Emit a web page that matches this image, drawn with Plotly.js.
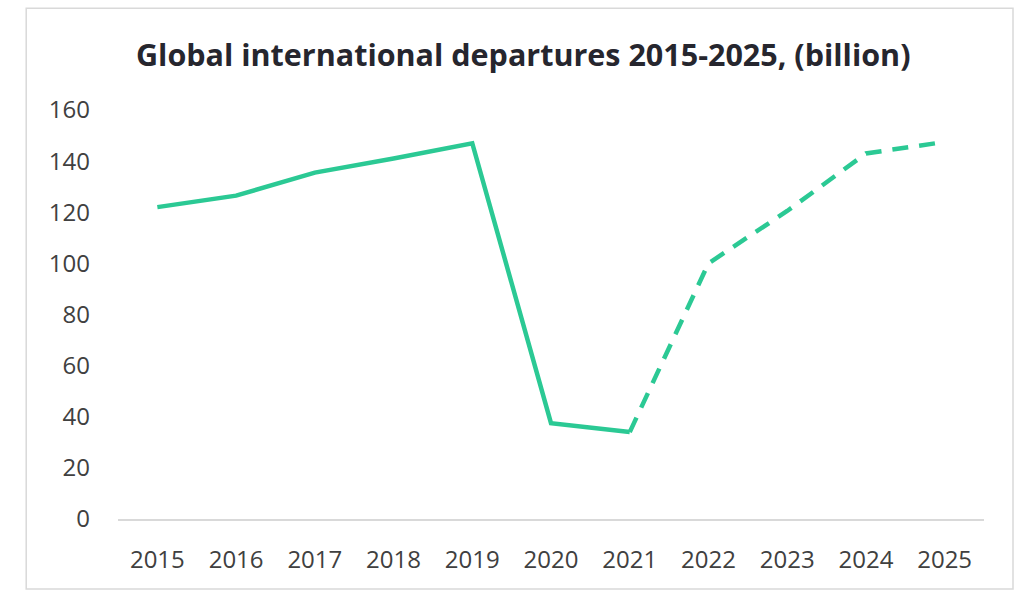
<!DOCTYPE html>
<html>
<head>
<meta charset="utf-8">
<script src="https://cdn.plot.ly/plotly-3.0.1.min.js"></script>
<style>html,body{margin:0;padding:0;background:#fff;}#chart{width:1028px;height:592px;}</style>
</head>
<body>
<div id="chart"></div>
<script>
// Data
const actualYears = [2015, 2016, 2017, 2018, 2019, 2020, 2021];
const actualValues = [122, 126.5, 135.5, 141, 147, 37.5, 34];
const forecastYears = [2021, 2022, 2023, 2024, 2025];
const forecastValues = [34, 100, 120.5, 143, 147.5];
const tickYears = [2015, 2016, 2017, 2018, 2019, 2020, 2021, 2022, 2023, 2024, 2025];
const yTicks = [0, 20, 40, 60, 80, 100, 120, 140, 160];
const titleText = 'Global international departures 2015-2025, (billion)';

const lineColor = '#2bc994';
const font = '"Open Sans", sans-serif';

const traces = [
  {x: actualYears, y: actualValues, type: 'scatter', mode: 'lines',
   line: {color: lineColor, width: 4.5}, hoverinfo: 'x+y'},
  {x: forecastYears, y: forecastValues, type: 'scatter', mode: 'lines',
   line: {color: lineColor, width: 4.5, dash: '16px,11px'}, hoverinfo: 'x+y'}
];

const layout = {
  width: 1028, height: 592,
  margin: {l: 118, r: 44, t: 110, b: 73},
  paper_bgcolor: '#fff', plot_bgcolor: '#fff',
  showlegend: false,
  title: {text: '<b>' + titleText + '</b>', x: 0.509, xanchor: 'center',
          y: 0.907, yanchor: 'middle', yref: 'container',
          font: {family: font, size: 30.5, color: '#26262e'}},
  xaxis: {range: [2014.5, 2025.5], tickmode: 'array', tickvals: tickYears,
          ticktext: tickYears.map(String), showgrid: false, zeroline: false,
          showline: true, linecolor: '#d9d9d9', linewidth: 1.5, ticks: '',
          ticklabelstandoff: 19,
          tickfont: {family: font, size: 24, color: '#404040'}, fixedrange: true},
  yaxis: {range: [0, 160], tickmode: 'array', tickvals: yTicks,
          showgrid: false, zeroline: false, showline: false, ticks: '',
          ticklabelstandoff: 27,
          tickfont: {family: font, size: 24, color: '#404040'}, fixedrange: true},
  shapes: [{type: 'rect', xref: 'paper', yref: 'paper',
            x0: -0.106, x1: 1.0335, y0: -0.171, y1: 1.249,
            line: {color: '#d9d9d9', width: 1.5}, layer: 'below'}]
};

Plotly.newPlot('chart', traces, layout, {displayModeBar: false, staticPlot: true});
</script>
</body>
</html>
